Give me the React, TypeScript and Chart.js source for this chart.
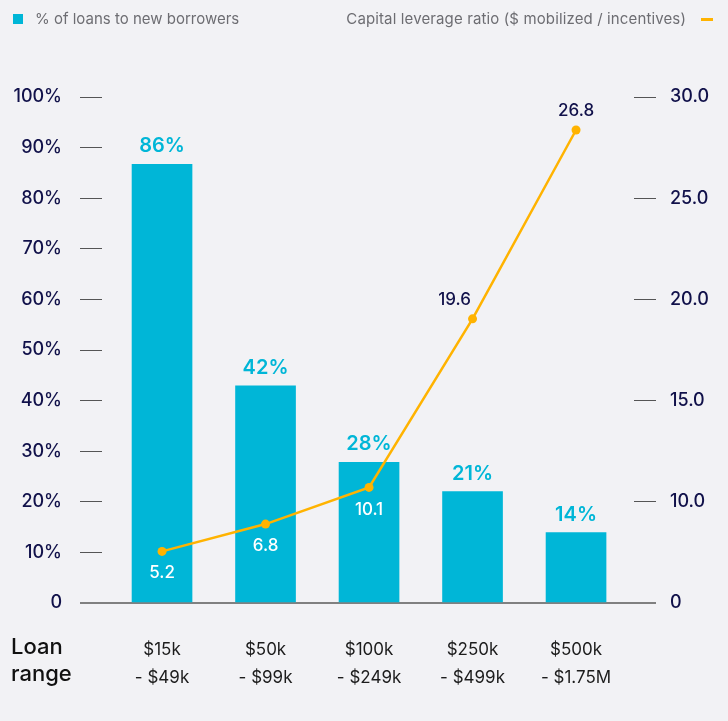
import React, { useEffect, useRef } from "react";
import { Chart, registerables } from "chart.js";

Chart.register(...registerables);

// ---- data ----
const categories = ["$15k - $49k", "$50k - $99k", "$100k - $249k", "$250k - $499k", "$500k - $1.75M"];
const newBorrowerShare = [86.7, 42.9, 27.8, 22.0, 13.9];
const newBorrowerLabels = ["86%", "42%", "28%", "21%", "14%"];
// leverage ratio, as plotted against the right axis of the picture
const leveragePlotted = [7.55, 8.9, 10.71, 19.04, 28.37];
const leverageLabels = ["5.2", "6.8", "10.1", "19.6", "26.8"];
const leftTicks = [0, 10, 20, 30, 40, 50, 60, 70, 80, 90, 100];
const rightTicks = [5, 10, 15, 20, 25, 30];

const CYAN = "#00b6d7";
const AMBER = "#ffb300";
const NAVY = "#11114a";
const BG = "#f2f2f5";
const FONT = "Inter, 'Noto Sans', sans-serif";

const splitCat = (c: string) => {
  const [a, b] = c.split(" - ");
  return [a, "- " + b];
};

const labelPlugin = {
  id: "valueLabels",
  afterDatasetsDraw(chart: any) {
    const ctx = chart.ctx;
    const bars = chart.getDatasetMeta(0).data;
    const pts = chart.getDatasetMeta(1).data;
    ctx.save();
    ctx.textAlign = "center";
    ctx.textBaseline = "middle";
    ctx.font = `600 20px ${FONT}`;
    ctx.fillStyle = CYAN;
    bars.forEach((b: any, i: number) => {
      ctx.fillText(newBorrowerLabels[i], b.x, b.y - 18);
    });
    ctx.font = `500 17px ${FONT}`;
    pts.forEach((p: any, i: number) => {
      const barTop = bars[i] ? bars[i].y : Infinity;
      if (p.y > barTop + 8) {
        ctx.fillStyle = "#ffffff";
        ctx.fillText(leverageLabels[i], p.x, p.y + 22);
      } else {
        ctx.fillStyle = NAVY;
        const shift = i < pts.length - 1 ? -18 : 0;
        ctx.fillText(leverageLabels[i], p.x + shift, p.y - 19);
      }
    });
    ctx.restore();
  },
};

export default function App() {
  const ref = useRef<HTMLCanvasElement | null>(null);

  useEffect(() => {
    if (!ref.current) return;
    const tickGrid = {
      display: true,
      drawOnChartArea: false,
      drawTicks: true,
      tickLength: 22,
      color: (c: any) => (c.index === 0 ? "#808080" : "#555555"),
      lineWidth: (c: any) => (c.index === 0 ? 2 : 1),
    };
    const chart = new Chart(ref.current, {
      type: "bar",
      data: {
        datasets: [
          {
            type: "bar",
            label: "% of loans to new borrowers",
            data: newBorrowerShare.map((v, i) => ({ x: i, y: v })),
            backgroundColor: CYAN,
            barThickness: 60,
            yAxisID: "y",
            order: 1,
          },
          {
            type: "line",
            label: "Capital leverage ratio ($ mobilized / incentives)",
            data: leveragePlotted.map((v, i) => ({ x: i, y: v })),
            borderColor: AMBER,
            backgroundColor: AMBER,
            borderWidth: 2.5,
            pointRadius: 4.5,
            pointBackgroundColor: AMBER,
            pointBorderWidth: 0,
            tension: 0,
            yAxisID: "y1",
            order: 0,
          },
        ],
      } as any,
      options: {
        responsive: false,
        animation: false,
        events: [],
        layout: { padding: { top: 97, left: 0, right: 0, bottom: 0 } },
        plugins: {
          legend: { display: false },
          tooltip: { enabled: false },
        },
        scales: {
          x: {
            type: "linear",
            offset: false,
            min: -0.58,
            max: 4.56,
            bounds: "data",
            afterBuildTicks: (s: any) => {
              s.ticks = categories.map((_, i) => ({ value: i }));
            },
            afterFit: (s: any) => {
              s.height = 118;
            },
            grid: { display: false, drawTicks: false, offset: false },
            border: { display: true, color: "#808080", width: 2 },
            ticks: {
              autoSkip: false,
              maxRotation: 0,
              padding: 32,
              color: "#1c1c1c",
              font: { family: FONT, size: 17, lineHeight: 1.7 },
              callback: (v: any) => {
                const i = Math.round(Number(v));
                return Math.abs(i - Number(v)) < 1e-6 && categories[i] ? splitCat(categories[i]) : "";
              },
            },
          },
          y: {
            position: "left",
            min: 0,
            max: 100,
            afterBuildTicks: (s: any) => {
              s.ticks = leftTicks.map((v) => ({ value: v }));
            },
            afterFit: (s: any) => {
              s.width = 102;
            },
            grid: tickGrid as any,
            border: { display: false },
            ticks: {
              padding: 18,
              color: NAVY,
              font: { family: FONT, size: 18, weight: "500" as any },
              callback: (v: any) => (Number(v) === 0 ? "0" : v + "%"),
            },
          },
          y1: {
            position: "right",
            min: 5,
            max: 30,
            afterBuildTicks: (s: any) => {
              s.ticks = rightTicks.map((v) => ({ value: v }));
            },
            afterFit: (s: any) => {
              s.width = 94;
            },
            grid: tickGrid as any,
            border: { display: false },
            ticks: {
              padding: 14,
              color: NAVY,
              font: { family: FONT, size: 18, weight: "500" as any },
              callback: (v: any) => (Number(v) === rightTicks[0] ? "0" : Number(v).toFixed(1)),
            },
          },
        },
      } as any,
      plugins: [labelPlugin],
    });
    return () => chart.destroy();
  }, []);

  return (
    <div
      style={{
        position: "fixed",
        left: 0,
        top: 0,
        width: 728,
        height: 721,
        background: BG,
        fontFamily: FONT,
        overflow: "hidden",
      }}
    >
      <canvas ref={ref} width={728} height={721} style={{ position: "absolute", left: 0, top: 0 }} />
      {/* legend */}
      <div style={{ position: "absolute", left: 13, top: 14, width: 10, height: 10, background: CYAN }} />
      <div
        style={{
          position: "absolute",
          left: 35,
          top: 9,
          height: 20,
          lineHeight: "20px",
          fontSize: 15,
          color: "#6d6d72",
          whiteSpace: "nowrap",
        }}
      >
        % of loans to new borrowers
      </div>
      <div
        style={{
          position: "absolute",
          right: 728 - 686,
          top: 9,
          height: 20,
          lineHeight: "20px",
          fontSize: 15,
          letterSpacing: "0.13px",
          color: "#6d6d72",
          whiteSpace: "nowrap",
        }}
      >
        Capital leverage ratio ($ mobilized / incentives)
      </div>
      <div style={{ position: "absolute", left: 701, top: 18, width: 12, height: 3, background: AMBER }} />
      {/* x-axis side title */}
      <div
        style={{
          position: "absolute",
          left: 11,
          top: 633,
          fontSize: 22,
          lineHeight: "27px",
          fontWeight: 500,
          color: "#111111",
        }}
      >
        Loan
        <br />
        range
      </div>
    </div>
  );
}
